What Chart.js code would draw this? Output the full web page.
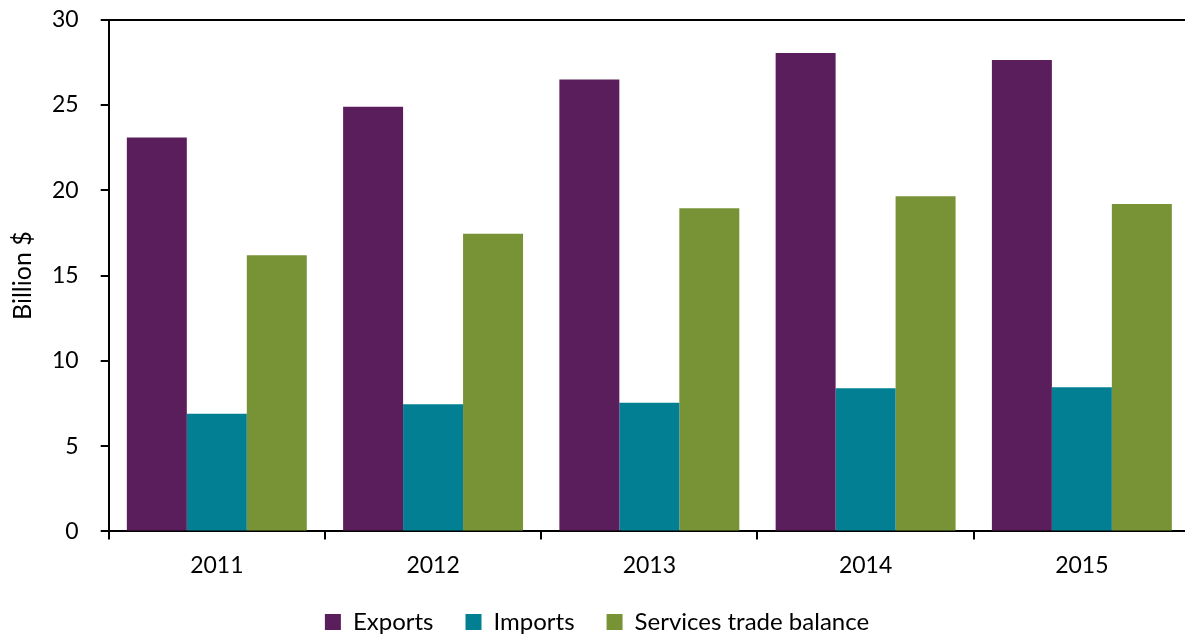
<!DOCTYPE html>
<html>
<head>
<meta charset="utf-8">
<script src="https://cdn.jsdelivr.net/npm/chart.js@4/dist/chart.umd.min.js"></script>
<style>
html,body{margin:0;padding:0;background:#fff;overflow:hidden;}
#wrap{position:relative;width:1190px;height:636px;overflow:hidden;}
#c{position:absolute;left:0;top:-16px;}
</style>
</head>
<body>
<div id="wrap"><canvas id="c" width="1190" height="660"></canvas></div>
<script>
const categories = ['2011','2012','2013','2014','2015'];
const exportsData = [23.1, 24.9, 26.5, 28.05, 27.65];
const importsData = [6.9, 7.45, 7.55, 8.4, 8.45];
const balanceData = [16.2, 17.45, 18.95, 19.65, 19.2];
const yTicks = [0,5,10,15,20,25,30];

const FONT = "Lato, 'Open Sans', sans-serif";

new Chart(document.getElementById('c'), {
  type: 'bar',
  data: {
    labels: categories,
    datasets: [
      {label:'Exports', data: exportsData, backgroundColor:'#5b1e5d', borderWidth:0},
      {label:'Imports', data: importsData, backgroundColor:'#027f93', borderWidth:0},
      {label:'Services trade balance', data: balanceData, backgroundColor:'#779336', borderWidth:0}
    ]
  },
  options: {
    responsive:false,
    animation:false,
    devicePixelRatio:1,
    layout:{padding:{top:0,left:4,right:0,bottom:0}},
    datasets:{bar:{categoryPercentage:0.832, barPercentage:1.0}},
    plugins:{
      legend:{
        position:'bottom',
        labels:{boxWidth:16, boxHeight:16, padding:32, font:{family:FONT,size:24}, color:'#000'}
      },
      tooltip:{enabled:false}
    },
    scales:{
      x:{
        afterFit:(s)=>{s.height -= 13;},
        grid:{offset:true, color:'transparent', tickColor:'#000', tickLength:8, lineWidth:2, drawTicks:true},
        border:{display:true, color:'#000', width:2},
        ticks:{font:{family:FONT,size:23}, color:'#000', padding:12}
      },
      y:{
        min:0, max:30,
        afterFit:(s)=>{s.width -= 21;},
        afterBuildTicks:(ax)=>{ax.ticks = yTicks.map(v=>({value:v}));},
        grid:{color:(ctx)=> (ctx.tick && ctx.tick.value===30) ? '#000' : 'transparent', tickColor:'#000', tickLength:8, lineWidth:2},
        border:{display:true, color:'#000', width:2},
        ticks:{font:{family:FONT,size:23}, color:'#000', padding:22},
        title:{display:true, text:'Billion $', font:{family:FONT,size:25}, color:'#000', padding:{top:4,bottom:13}}
      }
    }
  }
});
</script>
</body>
</html>
